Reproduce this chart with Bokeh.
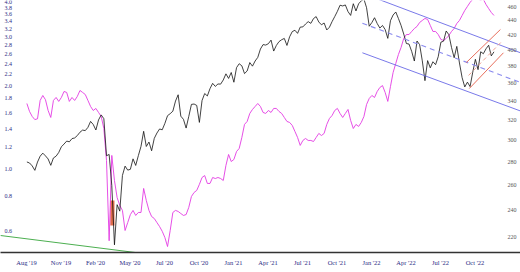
import pandas as pd
from bokeh.plotting import figure
from bokeh.models import Range1d, LogScale, FixedTicker, LabelSet, ColumnDataSource
from bokeh.embed import file_html
from bokeh.resources import INLINE

# ---------------- data ----------------
# weekly, starting 2019-08-02 (price, dividend adjusted, right axis)
spy = [280.0, 279.1, 276.5, 272.6, 279.9, 285.2, 288.0, 285.5, 282.7, 277.0,
       283.6, 285.2, 288.6, 293.9, 296.5, 299.3, 298.6, 301.7, 302.3, 304.6,
       307.9, 310.0, 309.5, 312.7, 318.7, 315.6, 310.1, 320.2, 325.4, 321.5,
       285.6, 286.8, 259.6, 214.9, 244.3, 239.3, 268.2, 276.3, 272.8, 273.5,
       282.8, 276.9, 285.7, 294.3, 308.8, 294.2, 298.4, 290.2, 301.9, 307.1,
       311.1, 310.3, 316.7, 324.6, 326.7, 329.3, 340.1, 347.0, 324.1, 320.8,
       312.0, 323.8, 336.5, 336.9, 335.4, 317.7, 340.7, 348.4, 345.7, 353.9,
       359.9, 356.4, 359.2, 359.0, 363.8, 371.0, 365.6, 372.6, 361.2, 378.4,
       383.2, 380.6, 371.3, 374.4, 384.6, 380.2, 386.5, 391.0, 401.6, 407.3,
       406.7, 408.5, 413.2, 399.0, 406.2, 411.2, 413.7, 415.4, 406.2, 417.6,
       424.6, 426.4, 422.2, 430.7, 431.0, 435.0, 438.3, 435.9, 442.6, 445.4,
       437.8, 433.9, 436.4, 426.8, 430.5, 438.3, 445.4, 452.9, 461.9, 460.8,
       462.3, 452.6, 447.1, 464.1, 453.5, 464.0, 468.4, 471.0, 458.2, 431.9,
       437.1, 443.8, 435.7, 429.4, 433.0, 427.4, 415.5, 439.6, 447.7, 452.0,
       442.7, 433.0, 421.3, 408.7, 408.0, 398.5, 386.5, 412.0, 407.2, 386.7,
       363.0, 387.0, 378.2, 385.6, 382.0, 391.9, 410.4, 411.8, 425.4, 420.4,
       403.7, 390.6, 405.0, 384.1, 366.5, 355.8, 361.3, 356.2, 372.8, 388.6,
       376.0, 398.1, 395.6, 401.9, 406.5, 392.9, 398.0]

# weekly ratio (left axis)
ratio = [1.725, 1.615, 1.55, 1.51, 1.52, 1.769, 1.843, 1.78, 1.628, 1.537,
         1.769, 1.813, 1.755, 1.813, 1.905, 1.89, 1.755, 1.813, 1.769, 1.828,
         1.921, 1.89, 1.858, 1.769, 1.683, 1.628, 1.656, 1.602, 1.55, 1.403,
         1.077, 0.555, 1.123, 0.913, 0.793, 0.743, 0.713, 0.604, 0.645, 0.689,
         0.713, 0.684, 0.701, 0.701, 0.855, 0.774, 0.713, 0.678, 0.667, 0.645,
         0.624, 0.60, 0.57, 0.529, 0.604, 0.701, 0.713, 0.707, 0.695, 0.684,
         0.689, 0.731, 0.80, 0.827, 0.841, 0.884, 0.936, 0.951, 0.891, 0.891,
         0.936, 0.928, 0.936, 0.928, 0.913, 1.034, 1.132, 1.068, 1.086, 1.16,
         1.19, 1.303, 1.451, 1.487, 1.589, 1.642, 1.683, 1.725, 1.683, 1.602,
         1.589, 1.628, 1.602, 1.656, 1.656, 1.615, 1.589, 1.537, 1.487, 1.475,
         1.439, 1.369, 1.303, 1.22, 1.271, 1.292, 1.271, 1.271, 1.26, 1.303,
         1.347, 1.324, 1.347, 1.451, 1.524, 1.562, 1.628, 1.656, 1.589, 1.537,
         1.589, 1.642, 1.499, 1.403, 1.451, 1.427, 1.475, 1.55, 1.711, 1.798,
         1.843, 1.813, 1.905, 1.969, 2.0, 1.89, 1.755, 1.985, 2.229, 2.402,
         2.586, 2.741, 2.952, 3.05, 3.05, 3.128, 3.205, 3.26, 3.37, 3.426,
         3.483, 3.455, 3.289, 3.128, 3.128, 3.05, 2.928, 2.904, 2.952, 3.025,
         3.128, 3.205, 3.342, 3.426, 3.57, 3.721, 3.847, 3.976, 4.08, 4.1,
         4.08, 4.06, 4.08, 3.91, 3.78, 3.66, 3.57]

tick_labels = ["Aug '19", "Nov '19", "Feb '20", "May '20", "Jul '20", "Oct '20",
               "Jan '21", "Apr '21", "Jul '21", "Oct '21", "Jan '22", "Apr '22",
               "Jul '22", "Oct '22"]
left_ticks = [0.6, 0.8, 1.0, 1.2, 1.4, 1.6, 1.8, 2.0, 2.2, 2.4, 2.6, 2.8, 3.0,
              3.2, 3.4, 3.6, 3.8, 4.0]
right_ticks = [220, 240, 260, 280, 300, 320, 340, 360, 380, 400, 420, 440, 460]

# trend channels (date, price)
blue_upper_d = ["2022-01-03", "2023-02-24"]; blue_upper_v = [479.9, 396.8]
blue_mid_d = ["2022-01-03", "2023-02-24"];   blue_mid_v = [436.1, 360.9]
blue_lower_d = ["2022-01-03", "2023-02-24"]; blue_lower_v = [396.8, 329.5]
red_upper_d = ["2022-10-04", "2023-01-02"];  red_upper_v = [384.6, 427.4]
red_mid_d = ["2022-10-10", "2023-01-08"];    red_mid_v = [369.1, 412.6]
red_lower_d = ["2022-10-12", "2023-01-10"];  red_lower_v = [354.0, 396.8]
green_d = ["2019-05-24", "2020-05-14"];      green_v = [0.5796, 0.5036]
box_d = ["2020-03-09", "2020-03-20"];        box_v = [228.6, 247.6]

# ---------------- helpers ----------------
origin = pd.Timestamp("2019-08-01")


def dx(d):
    return (pd.Timestamp(d) - origin).days


week_dates = pd.date_range("2019-08-02", periods=len(spy), freq="7D")
xs = [(d - origin).days for d in week_dates]
tick_x = [(d - origin).days for d in pd.date_range("2019-08-01", periods=len(tick_labels), freq="91D")]

p = figure(width=520, height=272, x_range=Range1d(-68.6, 1303),
           y_range=Range1d(0.5036, 4.04), y_axis_type="log", y_axis_location=None,
           output_backend="svg", toolbar_location=None,
           min_border_left=0, min_border_right=0, min_border_top=0, min_border_bottom=20)
p.extra_y_ranges = {"px": Range1d(209.7, 468.9)}
p.extra_y_scales = {"px": LogScale()}
p.xgrid.visible = False
p.ygrid.visible = False
p.outline_line_color = None
p.background_fill_color = "white"
p.border_fill_color = "white"

ax = p.xaxis[0]
ax.ticker = FixedTicker(ticks=tick_x)
ax.major_label_overrides = {t: l for t, l in zip(tick_x, tick_labels)}
ax.axis_line_color = "#333333"
ax.axis_line_width = 1.3
ax.major_tick_line_color = None
ax.minor_tick_line_color = None
ax.major_tick_out = 0
ax.major_tick_in = 0
ax.major_label_standoff = 6
ax.major_label_text_font = "Liberation Serif"
ax.major_label_text_font_size = "6.5px"
ax.major_label_text_color = "#2b2b85"

# green trend line (left axis)
p.line([dx(d) for d in green_d], green_v, color="#4caf50", line_width=1)

# highlight box
p.quad(left=[dx(box_d[0])], right=[dx(box_d[1])], bottom=[box_v[0]], top=[box_v[1]],
       y_range_name="px", fill_color="#d9542c", fill_alpha=0.85, line_color=None)

# ratio line
p.line(xs, ratio, color="#e33be3", line_width=0.9)

# price line
p.line(xs, spy, color="#111111", line_width=0.8, y_range_name="px")

# blue channel
p.line([dx(d) for d in blue_upper_d], blue_upper_v, color="#6a6ae6", line_width=0.9, y_range_name="px")
p.line([dx(d) for d in blue_mid_d], blue_mid_v, color="#8a8aee", line_width=1.1,
       line_dash="5 4", y_range_name="px")
p.line([dx(d) for d in blue_lower_d], blue_lower_v, color="#6a6ae6", line_width=0.9, y_range_name="px")

# red channel
p.line([dx(d) for d in red_upper_d], red_upper_v, color="#e8705e", line_width=1, y_range_name="px")
p.line([dx(d) for d in red_mid_d], red_mid_v, color="#f0a090", line_width=1,
       line_dash="4 3", y_range_name="px")
p.line([dx(d) for d in red_lower_d], red_lower_v, color="#e8705e", line_width=1, y_range_name="px")

# axis labels inside the frame
lsrc = ColumnDataSource(dict(y=left_ticks, t=["%.1f" % v for v in left_ticks]))
p.add_layout(LabelSet(x=4, y="y", text="t", source=lsrc, x_units="screen",
                      text_font="Liberation Serif", text_font_size="6px",
                      text_color="#2b2b85", text_baseline="middle", text_align="left"))
rsrc = ColumnDataSource(dict(y=right_ticks, t=[str(v) for v in right_ticks]))
p.add_layout(LabelSet(x=507, y="y", text="t", source=rsrc, x_units="screen",
                      y_range_name="px",
                      text_font="Liberation Serif", text_font_size="6px",
                      text_color="#555555", text_baseline="middle", text_align="left"))

open("out.html", "w").write(file_html(p, INLINE))
